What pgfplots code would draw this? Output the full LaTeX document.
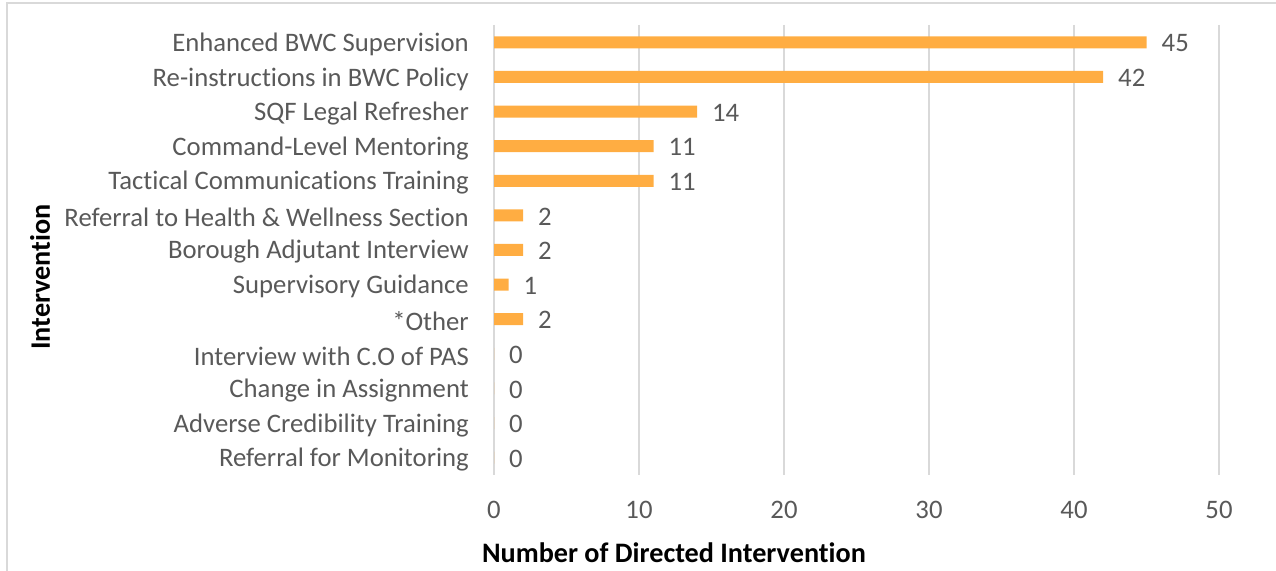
\documentclass[border=0pt]{standalone}
\usepackage{fontspec}
\setmainfont[Ligatures=NoCommon]{Carlito}
\usepackage{pgfplots}
\pgfplotsset{compat=1.18}

\definecolor{barorange}{HTML}{FFAD42}
\definecolor{txtgray}{HTML}{595959}
\definecolor{gridgray}{HTML}{D9D9D9}

\begin{document}
\begin{tikzpicture}[x=1bp,y=1bp]
\useasboundingbox (0,0) rectangle (1276,571);
\draw[gridgray, line width=1.5bp] (7,-5) -- (7,568) -- (1290,568);
\begin{axis}[
    at={(494bp,96bp)}, anchor=south west,
    scale only axis,
    width=725bp, height=450bp,
    xbar,
    bar width=12bp,
    xmin=0, xmax=50,
    ymin=-0.5, ymax=12.5,
    y dir=reverse,
    xtick={0,10,...,50},
    ytick={0,...,12},
    yticklabels={Enhanced BWC Supervision, Re-instructions in BWC Policy, SQF Legal Refresher, Command-Level Mentoring, Tactical Communications Training, Referral to Health \& Wellness Section, Borough Adjutant Interview, Supervisory Guidance, *Other, Interview with C.O of PAS, Change in Assignment, Adverse Credibility Training, Referral for Monitoring},
    axis line style={draw=none},
    major tick length=0pt,
    xmajorgrids,
    grid style={gridgray, line width=1.5bp},
    /pgf/number format/assume math mode=true,
    tick label style={font=\fontsize{26.7bp}{32bp}\selectfont, text=txtgray},
    xticklabel style={anchor=center, yshift=-35bp},
    yticklabel style={anchor=east, inner sep=0pt, xshift=-25bp, yshift=-2bp},
    nodes near coords,
    every node near coord/.append style={font=\fontsize{26.7bp}{32bp}\selectfont, text=txtgray, anchor=west, inner sep=0pt, xshift=15bp, yshift=-1bp},
]
\addplot[fill=barorange, draw=none] coordinates {
    (45,0) (42,1) (14,2) (11,3) (11,4) (2,5) (2,6) (1,7) (2,8)
    (0,9) (0,10) (0,11) (0,12)
};
\end{axis}
\node[font=\fontsize{28.2bp}{34bp}\selectfont\bfseries] at (674,18) {Number of Directed Intervention};
\node[font=\fontsize{28.2bp}{34bp}\selectfont\bfseries, rotate=90] at (40,294) {Intervention};
\end{tikzpicture}
\end{document}
